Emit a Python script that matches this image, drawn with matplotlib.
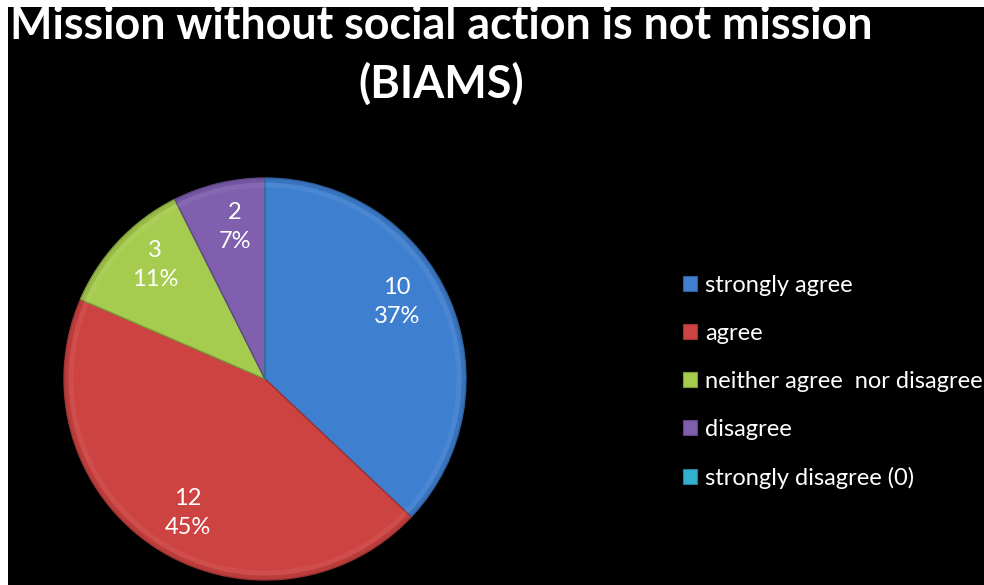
import numpy as np
import matplotlib
matplotlib.use("Agg")
import matplotlib.pyplot as plt
from matplotlib.patches import Rectangle, Patch, Wedge

categories = ["strongly agree", "agree", "neither agree  nor disagree", "disagree", "strongly disagree (0)"]
counts = [10, 12, 3, 2, 0]
percent_labels = ["37%", "45%", "11%", "7%", ""]
colors = ["#3F7FCF", "#CD4341", "#A5CC4E", "#7F5FAE", "#33AFCF"]
edge_colors = ["#2E5F9C", "#9C3231", "#7D9A3A", "#5E4683", "#267F97"]
label_dist = [0.76, 0.77, 0.79, 0.77, 0.77]
label_turn = [6.8, 3.5, -2.7, -2.2, 0.0]

plt.rcParams['font.family'] = ['Lato', 'DejaVu Sans']

fig = plt.figure(figsize=(9.84, 5.85), dpi=100)
fig.patch.set_facecolor("white")
fig.add_artist(Rectangle((8 / 984, 0), 1.0, 578 / 585, transform=fig.transFigure,
                         facecolor="black", edgecolor="none", zorder=0))

fig.text(441 / 984, 1 - 39 / 585, "Mission without social action is not mission",
         ha="center", va="baseline", color="white", fontsize=32.3, fontweight="bold")
fig.text(441 / 984, 1 - 98 / 585, "(BIAMS)",
         ha="center", va="baseline", color="white", fontsize=32.3, fontweight="bold")

ax = fig.add_axes([62 / 984, 3 / 585, 406 / 984, 406 / 585])
ax.set_facecolor("none")
wedges, _ = ax.pie(counts, colors=colors, startangle=90, counterclock=False, radius=1.0,
                   wedgeprops=dict(linewidth=1.0))
for w, ec in zip(wedges, edge_colors):
    w.set_edgecolor(ec)
    if w.theta2 - w.theta1 > 0:
        # soft bevel: darker outer rim and faint inner highlight
        ax.add_patch(Wedge((0, 0), 1.0, w.theta1, w.theta2, width=0.022,
                           facecolor=ec, edgecolor="none", alpha=0.35))
        ax.add_patch(Wedge((0, 0), 0.978, w.theta1, w.theta2, width=0.025,
                           facecolor="white", edgecolor="none", alpha=0.06))
ax.set_xlim(-1.01, 1.01)
ax.set_ylim(-1.01, 1.01)
ax.set_aspect("equal")
ax.axis("off")

for w, n, p, d, t in zip(wedges, counts, percent_labels, label_dist, label_turn):
    if n == 0:
        continue
    mid = np.deg2rad((w.theta1 + w.theta2) / 2 + t)
    ax.text(d * np.cos(mid), d * np.sin(mid), f"{n}\n{p}", ha="center", va="center",
            color="white", fontsize=17, linespacing=1.45)

handles = [Patch(facecolor=c, edgecolor=e, linewidth=0.8) for c, e in zip(colors, edge_colors)]
fig.legend(handles, categories, loc="upper left", bbox_to_anchor=(683 / 984, 1 - 275 / 585),
           frameon=False, fontsize=17, labelcolor="white", handlelength=0.6, handleheight=0.6,
           handletextpad=0.34, labelspacing=1.14, borderpad=0, borderaxespad=0)

fig.savefig("out.png", dpi=100, facecolor=fig.get_facecolor())
